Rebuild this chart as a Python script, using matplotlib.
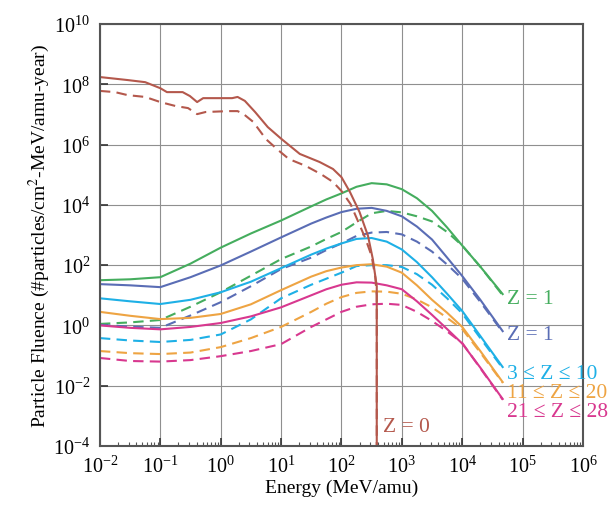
import numpy as np
import matplotlib
matplotlib.use("Agg")
import matplotlib.pyplot as plt
from matplotlib.ticker import LogLocator, NullLocator

plt.rcParams['font.family'] = ['Liberation Serif', 'DejaVu Serif']
plt.rcParams['mathtext.fontset'] = 'stix'

# energy grid (log10 MeV/amu) shared by the ion curves
log_e = [-2, -1.5, -1, -0.5, 0, 0.5, 1, 1.5, 1.75, 2, 2.25, 2.5, 2.75, 3, 3.25, 3.5, 3.75, 4, 4.3, 4.67]

# log10 fluence, solid / dashed pairs
z1a_solid  = [1.5, 1.53, 1.6, 2.05, 2.58, 3.05, 3.48, 3.95, 4.18, 4.38, 4.6, 4.72, 4.68, 4.52, 4.22, 3.8, 3.25, 2.65, 1.95, 1.04]
z1a_dashed = [0.05, 0.1, 0.18, 0.62, 1.1, 1.65, 2.2, 2.62, 2.87, 3.1, 3.42, 3.72, 3.8, 3.75, 3.62, 3.45, 3.1, 2.65, 1.95, 1.0]
z1b_solid  = [1.37, 1.33, 1.27, 1.6, 1.99, 2.45, 2.92, 3.38, 3.58, 3.76, 3.87, 3.9, 3.8, 3.62, 3.28, 2.85, 2.25, 1.64, 0.85, -0.19]
z1b_dashed = [0.02, -0.04, -0.08, 0.33, 0.77, 1.3, 1.87, 2.25, 2.5, 2.72, 2.97, 3.08, 3.1, 3.02, 2.78, 2.45, 2.02, 1.55, 0.78, -0.22]
z3_solid   = [0.9, 0.8, 0.71, 0.85, 1.1, 1.45, 1.9, 2.35, 2.55, 2.72, 2.87, 2.9, 2.78, 2.52, 2.1, 1.6, 1.05, 0.48, -0.35, -1.38]
z3_dashed  = [-0.42, -0.5, -0.55, -0.48, -0.3, 0.2, 0.9, 1.35, 1.55, 1.75, 1.97, 2.0, 2.0, 1.94, 1.7, 1.35, 0.9, 0.4, -0.42, -1.42]
z11_solid  = [0.45, 0.32, 0.21, 0.25, 0.38, 0.7, 1.17, 1.62, 1.8, 1.92, 2.0, 2.03, 1.95, 1.75, 1.33, 0.85, 0.42, -0.05, -0.85, -1.88]
z11_dashed = [-0.85, -0.92, -0.95, -0.9, -0.72, -0.42, -0.05, 0.45, 0.72, 0.94, 1.08, 1.13, 1.12, 1.05, 0.86, 0.6, 0.25, -0.12, -0.9, -1.9]
z21_solid  = [0.0, -0.08, -0.13, -0.05, 0.08, 0.3, 0.6, 1.0, 1.2, 1.35, 1.43, 1.42, 1.33, 1.2, 0.8, 0.35, -0.12, -0.6, -1.4, -2.44]
z21_dashed = [-1.08, -1.18, -1.2, -1.15, -1.02, -0.85, -0.62, -0.05, 0.2, 0.45, 0.62, 0.7, 0.72, 0.68, 0.45, 0.15, -0.2, -0.58, -1.42, -2.46]

# Z = 0 (neutrons), own energy grid
z0_log_e  = [-2, -1.54, -1.25, -1.0, -0.89, -0.63, -0.51, -0.39, -0.29, 0.19, 0.28, 0.4, 0.57, 0.78,
             1.01, 1.31, 1.64, 1.86, 2.0, 2.14, 2.3, 2.44, 2.52, 2.585, 2.585]
z0_solid  = [8.24, 8.14, 8.07, 7.87, 7.74, 7.74, 7.61, 7.41, 7.54, 7.54, 7.58, 7.45, 7.08, 6.58,
             6.18, 5.69, 5.42, 5.19, 4.92, 4.43, 3.76, 2.97, 2.2, 1.3, -5]
z0d_log_e = [-2, -1.75, -1.54, -1.25, -1.0, -0.75, -0.54, -0.39, -0.25, 0.13, 0.28, 0.38, 0.54, 0.75,
             0.95, 1.13, 1.41, 1.66, 1.86, 2.0, 2.15, 2.28, 2.4, 2.5, 2.56, 2.585, 2.585]
z0_dashed = [7.78, 7.74, 7.64, 7.58, 7.41, 7.28, 7.21, 7.01, 7.08, 7.11, 7.11, 7.01, 6.75, 6.18,
             5.82, 5.52, 5.29, 5.02, 4.76, 4.46, 4.03, 3.43, 2.87, 2.3, 1.6, 1.0, -5]

series = [
    (z1a_solid, z1a_dashed, '#45ad5e', 'Z = 1', 0.88),
    (z1b_solid, z1b_dashed, '#5a6db5', 'Z = 1', -0.29),
    (z3_solid, z3_dashed, '#1eb0e6', '3 \u2264 Z \u2264 10', -1.58),
    (z11_solid, z11_dashed, '#eea443', '11 \u2264 Z \u2264 20', -2.21),
    (z21_solid, z21_dashed, '#d8388f', '21 \u2264 Z \u2264 28', -2.84),
]
brown = '#b4584c'

fig = plt.figure(figsize=(6.13, 5.06), dpi=100)
ax = fig.add_axes([0.163, 0.1166, 0.788, 0.834])

energy = 10.0 ** np.array(log_e)
for solid, dashed, col, label, ly in series:
    ax.plot(energy, 10.0 ** np.array(solid), color=col, lw=1.5)
    ax.plot(energy, 10.0 ** np.array(dashed), color=col, lw=1.5, ls=(0, (5, 3)))
    ax.text(10 ** 4.74, 10 ** ly, label, color=col, fontsize=15.5,
            ha='left', va='center', clip_on=False)

ax.plot(10.0 ** np.array(z0d_log_e), 10.0 ** np.array(z0_dashed), color=brown, lw=1.5, ls=(0, (5, 3)))
ax.plot(10.0 ** np.array(z0_log_e), 10.0 ** np.array(z0_solid), color=brown, lw=1.5)
ax.text(10 ** 2.69, 10 ** -3.34, 'Z = 0', color=brown, fontsize=15.5, ha='left', va='center')

ax.set_xscale('log')
ax.set_yscale('log')
ax.set_xlim(1e-2, 1e6)
ax.set_ylim(1e-4, 1e10)
ax.set_xticks([10.0 ** k for k in range(-2, 7)])
ax.set_yticks([10.0 ** k for k in range(-4, 11, 2)])
ax.xaxis.set_minor_locator(LogLocator(base=10, subs=np.arange(2, 10), numticks=20))
ax.yaxis.set_minor_locator(NullLocator())

ax.grid(True, which='major', color='#8f8f8f', lw=0.8)
ax.tick_params(which='major', direction='in', length=6, width=1.2, labelsize=14.5,
               top=False, right=False, pad=7, color='#333333')
ax.tick_params(which='minor', direction='in', length=3, width=0.8, top=False, right=False,
               color='#555555')
for s in ax.spines.values():
    s.set_color('#555555')
    s.set_linewidth(1.5)

ax.set_xlabel('Energy (MeV/amu)', fontsize=14, labelpad=1)
ax.set_ylabel(r'Particle Fluence (#particles/cm$^2$-MeV/amu-year)', fontsize=14, labelpad=1)

fig.savefig('out.png', dpi=100)
